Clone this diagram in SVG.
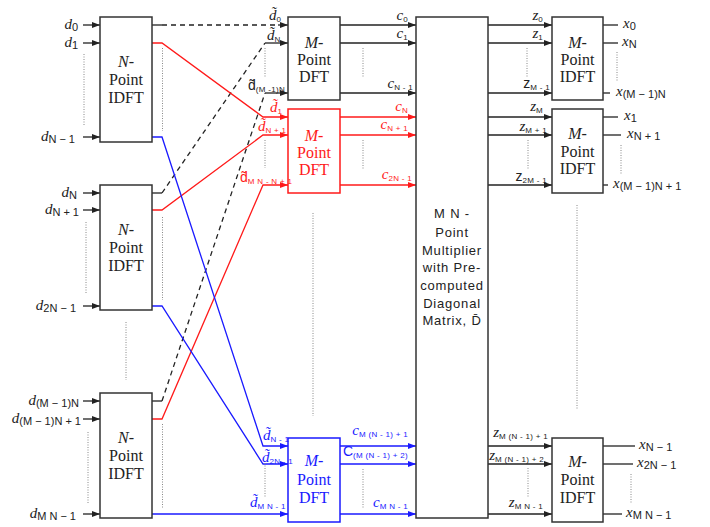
<svg xmlns="http://www.w3.org/2000/svg" width="710" height="527" viewBox="0 0 710 527">
<style>
.bx{fill:#fff;stroke:#333;stroke-width:1.5}
.bxr{fill:#fff;stroke:#ff1a1a;stroke-width:1.5}
.bxb{fill:#fff;stroke:#1a1aff;stroke-width:1.5}
.k{stroke:#222;stroke-width:1.3;fill:none}
.r{stroke:#ff1a1a;stroke-width:1.3;fill:none}
.b{stroke:#1a1aff;stroke-width:1.3;fill:none}
.dsh{stroke-dasharray:5,4}
.dot{stroke:#888;stroke-width:1;stroke-dasharray:1,1.5;fill:none}
.ak{marker-end:url(#ak)}
.ar{marker-end:url(#ar)}
.ab{marker-end:url(#ab)}
.bt{font-family:"Liberation Serif",serif;font-size:16px;text-anchor:middle}
.ct{font-family:"Liberation Sans",Arial,sans-serif;font-size:13px;letter-spacing:0.8px;text-anchor:middle;fill:#222}
.v{font-family:"Liberation Serif",serif;font-style:italic;font-size:15px}
.vs{font-family:"Liberation Sans",Arial,sans-serif;font-size:14px}
.s{font-family:"Liberation Sans",Arial,sans-serif;font-size:11px;font-style:normal}
.ss{font-family:"Liberation Sans",Arial,sans-serif;font-size:8px;font-style:normal;letter-spacing:0.3px}
.e{text-anchor:end}
.tk{fill:#222}
.tr{fill:#ff1a1a}
.tb{fill:#1a1aff}
</style>
<defs>
<marker id="ak" markerUnits="userSpaceOnUse" markerWidth="8" markerHeight="6" refX="8" refY="3" orient="auto"><path d="M0,0 L8,3 L0,6 z" fill="#222"/></marker>
<marker id="ar" markerUnits="userSpaceOnUse" markerWidth="8" markerHeight="6" refX="8" refY="3" orient="auto"><path d="M0,0 L8,3 L0,6 z" fill="#ff1a1a"/></marker>
<marker id="ab" markerUnits="userSpaceOnUse" markerWidth="8" markerHeight="6" refX="8" refY="3" orient="auto"><path d="M0,0 L8,3 L0,6 z" fill="#1a1aff"/></marker>
</defs>

<g id="connectors">
<path class="k ak" d="M83,25 H100"/>
<path class="k ak" d="M83,43 H100"/>
<path class="k ak" d="M83,137 H100"/>
<path class="k ak" d="M83,193 H100"/>
<path class="k ak" d="M83,210 H100"/>
<path class="k ak" d="M83,306 H100"/>
<path class="k ak" d="M83,401 H100"/>
<path class="k ak" d="M83,419 H100"/>
<path class="k ak" d="M83,514 H100"/>
<path class="k" d="M152,25 H162"/>
<path class="k dsh" d="M162,25 H279"/>
<path class="k ak" d="M278,25 H288"/>
<path class="k" d="M152,193 H162"/>
<path class="k dsh" d="M162,193 L265,43"/>
<path class="k ak" d="M265,43 H288"/>
<path class="k" d="M152,401 H162"/>
<path class="k dsh" d="M162,401 L265,93"/>
<path class="k ak" d="M265,93 H288"/>
<path class="r ar" d="M152,43 H162 L263,117 H288"/>
<path class="r ar" d="M152,210 H162 L263,135 H288"/>
<path class="r ar" d="M152,419 H162 L263,185 H288"/>
<path class="b ab" d="M152,137 H162 L263,446 H288"/>
<path class="b ab" d="M152,306 H162 L263,464 H288"/>
<path class="b ab" d="M152,514 H288"/>
<path class="k ak" d="M340,25 H416"/>
<path class="k ak" d="M340,43 H416"/>
<path class="k ak" d="M340,93 H416"/>
<path class="r ar" d="M340,117 H416"/>
<path class="r ar" d="M340,135 H416"/>
<path class="r ar" d="M340,185 H416"/>
<path class="b ab" d="M340,446 H416"/>
<path class="b ab" d="M340,464 H416"/>
<path class="b ab" d="M340,514 H416"/>
<path class="k ak" d="M488,25 H552"/>
<path class="k ak" d="M488,43 H552"/>
<path class="k ak" d="M488,93 H552"/>
<path class="k ak" d="M488,117 H552"/>
<path class="k ak" d="M488,135 H552"/>
<path class="k ak" d="M488,185 H552"/>
<path class="k ak" d="M488,446 H552"/>
<path class="k ak" d="M488,464 H552"/>
<path class="k ak" d="M488,514 H552"/>
<path class="k" d="M603,25 H618"/>
<path class="k" d="M603,43 H618"/>
<path class="k" d="M603,93 H610"/>
<path class="k" d="M603,117 H618"/>
<path class="k" d="M603,135 H621"/>
<path class="k" d="M603,185 H608"/>
<path class="k" d="M603,446 H635"/>
<path class="k" d="M603,464 H633"/>
<path class="k" d="M603,514 H622"/>
<path class="dot" d="M84,54 V125 M162.5,48 V131 M86,222 V293 M162.5,217 V300 M126,322 V380 M88,432 V503 M162.5,424 V509"/>
<path class="dot" d="M265,48 V77 M265,140 V168 M265,463 V498 M363,48 V78 M363,140 V170 M363,469 V508 M313,213 V416"/>
<path class="dot" d="M527,48 V78 M617,52 V82 M528,140 V170 M621,145 V175 M528,468 V498 M631,474 V503 M577,205 V410"/>
</g>

<g id="idft1"><rect class="bx" x="100" y="17" width="52" height="125"/>
<text class="bt tk" x="126" y="67"><tspan font-style="italic">N</tspan>-</text>
<text class="bt tk" x="126" y="85">Point</text><text class="bt tk" x="126" y="103">IDFT</text></g>
<g id="idft2"><rect class="bx" x="100" y="185" width="52" height="125"/>
<text class="bt tk" x="126" y="235"><tspan font-style="italic">N</tspan>-</text>
<text class="bt tk" x="126" y="253">Point</text><text class="bt tk" x="126" y="271">IDFT</text></g>
<g id="idft3"><rect class="bx" x="100" y="393" width="52" height="125"/>
<text class="bt tk" x="126" y="443"><tspan font-style="italic">N</tspan>-</text>
<text class="bt tk" x="126" y="461">Point</text><text class="bt tk" x="126" y="479">IDFT</text></g>

<g id="dft1"><rect class="bx" x="288" y="17" width="52" height="83"/>
<text class="bt tk" x="314" y="48"><tspan font-style="italic">M</tspan>-</text>
<text class="bt tk" x="314" y="65">Point</text><text class="bt tk" x="314" y="82">DFT</text></g>
<g id="dft2"><rect class="bxr" x="288" y="109" width="52" height="84"/>
<text class="bt tr" x="314" y="141"><tspan font-style="italic">M</tspan>-</text>
<text class="bt tr" x="314" y="158">Point</text><text class="bt tr" x="314" y="175">DFT</text></g>
<g id="dft3"><rect class="bxb" x="288" y="438" width="52" height="84"/>
<text class="bt tb" x="314" y="466"><tspan font-style="italic">M</tspan>-</text>
<text class="bt tb" x="314" y="485">Point</text><text class="bt tb" x="314" y="503">DFT</text></g>

<g id="multiplier"><rect class="bx" x="416" y="17" width="72" height="501"/>
<text class="ct" x="452" y="218">M N -</text>
<text class="ct" x="452" y="237">Point</text>
<text class="ct" x="452" y="255">Multiplier</text>
<text class="ct" x="452" y="272">with Pre-</text>
<text class="ct" x="452" y="290">computed</text>
<text class="ct" x="452" y="308">Diagonal</text>
<text class="ct" x="452" y="325">Matrix, D̄</text></g>

<g id="oidft1"><rect class="bx" x="552" y="17" width="51" height="83"/>
<text class="bt tk" x="577.5" y="48"><tspan font-style="italic">M</tspan>-</text>
<text class="bt tk" x="577.5" y="65">Point</text><text class="bt tk" x="577.5" y="82">IDFT</text></g>
<g id="oidft2"><rect class="bx" x="552" y="109" width="51" height="84"/>
<text class="bt tk" x="577.5" y="139"><tspan font-style="italic">M</tspan>-</text>
<text class="bt tk" x="577.5" y="157">Point</text><text class="bt tk" x="577.5" y="174">IDFT</text></g>
<g id="oidft3"><rect class="bx" x="552" y="438" width="51" height="84"/>
<text class="bt tk" x="577.5" y="467"><tspan font-style="italic">M</tspan>-</text>
<text class="bt tk" x="577.5" y="485">Point</text><text class="bt tk" x="577.5" y="503">IDFT</text></g>

<g id="labels-in">
<text class="e tk" x="78" y="29"><tspan class="v">d</tspan><tspan class="s" dy="2">0</tspan></text>
<text class="e tk" x="78" y="47"><tspan class="v">d</tspan><tspan class="s" dy="2">1</tspan></text>
<text class="e tk" x="75" y="141"><tspan class="v">d</tspan><tspan class="s" dy="2">N − 1</tspan></text>
<text class="e tk" x="77" y="197"><tspan class="v">d</tspan><tspan class="s" dy="2">N</tspan></text>
<text class="e tk" x="79" y="214"><tspan class="v">d</tspan><tspan class="s" dy="2">N + 1</tspan></text>
<text class="e tk" x="76" y="310"><tspan class="v">d</tspan><tspan class="s" dy="2">2N − 1</tspan></text>
<text class="e tk" x="79" y="405"><tspan class="v">d</tspan><tspan class="s" dy="2">(M − 1)N</tspan></text>
<text class="e tk" x="81" y="423"><tspan class="v">d</tspan><tspan class="s" dy="2">(M − 1)N + 1</tspan></text>
<text class="e tk" x="76" y="518"><tspan class="v">d</tspan><tspan class="s" dy="2">M N − 1</tspan></text>
</g>

<g id="labels-dft-in">
<text class="tk" x="269" y="20"><tspan class="v">d̃</tspan><tspan class="ss" dy="2">0</tspan></text>
<text class="tk" x="267" y="40"><tspan class="v">d̃</tspan><tspan class="ss" dy="2">N</tspan></text>
<text class="tk" x="248" y="90"><tspan class="vs">d̃</tspan><tspan class="ss" dy="2">(M -1)N</tspan></text>
<text class="tr" x="270" y="112"><tspan class="v">d̃</tspan><tspan class="ss" dy="2">1</tspan></text>
<text class="tr" x="258" y="131"><tspan class="v">d̃</tspan><tspan class="ss" dy="2">N + 1</tspan></text>
<text class="tr" x="240" y="182"><tspan class="vs">d̃</tspan><tspan class="ss" dy="2">M N - N + 1</tspan></text>
<text class="tb" x="263" y="440"><tspan class="v">d̃</tspan><tspan class="ss" dy="2">N - 1</tspan></text>
<text class="tb" x="262" y="462"><tspan class="v">d̃</tspan><tspan class="ss" dy="2">2N - 1</tspan></text>
<text class="tb" x="250" y="507"><tspan class="v">d̃</tspan><tspan class="ss" dy="2">M N - 1</tspan></text>
</g>

<g id="labels-c">
<text class="e tk" x="408" y="20"><tspan class="v">c</tspan><tspan class="ss" dy="2">0</tspan></text>
<text class="e tk" x="408" y="38"><tspan class="v">c</tspan><tspan class="ss" dy="2">1</tspan></text>
<text class="e tk" x="413" y="88"><tspan class="v">c</tspan><tspan class="ss" dy="2">N - 1</tspan></text>
<text class="e tr" x="408" y="111"><tspan class="v">c</tspan><tspan class="ss" dy="2">N</tspan></text>
<text class="e tr" x="408" y="129"><tspan class="v">c</tspan><tspan class="ss" dy="2">N + 1</tspan></text>
<text class="e tr" x="412" y="179"><tspan class="v">c</tspan><tspan class="ss" dy="2">2N - 1</tspan></text>
<text class="e tb" x="408" y="435"><tspan class="v">c</tspan><tspan class="ss" dy="2">M (N - 1) + 1</tspan></text>
<text class="e tb" x="408" y="456"><tspan class="vs" font-size="12px">C</tspan><tspan class="ss" dy="2">(M (N - 1) + 2)</tspan></text>
<text class="e tb" x="408" y="507"><tspan class="v">c</tspan><tspan class="ss" dy="2">M N - 1</tspan></text>
</g>

<g id="labels-z">
<text class="e tk" x="543" y="20"><tspan class="v">z</tspan><tspan class="ss" dy="2">0</tspan></text>
<text class="e tk" x="543" y="38"><tspan class="v">z</tspan><tspan class="ss" dy="2">1</tspan></text>
<text class="e tk" x="550" y="88"><tspan class="vs">z</tspan><tspan class="ss" dy="2">M - 1</tspan></text>
<text class="e tk" x="543" y="111"><tspan class="v">z</tspan><tspan class="ss" dy="2">M</tspan></text>
<text class="e tk" x="547" y="131"><tspan class="v">z</tspan><tspan class="ss" dy="2">M + 1</tspan></text>
<text class="e tk" x="547" y="181"><tspan class="vs">z</tspan><tspan class="ss" dy="2">2M - 1</tspan></text>
<text class="e tk" x="548" y="437"><tspan class="v">z</tspan><tspan class="ss" dy="2">M (N - 1) + 1</tspan></text>
<text class="e tk" x="544" y="460"><tspan class="v">z</tspan><tspan class="ss" dy="2">M (N - 1) + 2</tspan></text>
<text class="e tk" x="543" y="507"><tspan class="v">z</tspan><tspan class="ss" dy="2">M N - 1</tspan></text>
</g>

<g id="labels-x">
<text class="tk" x="623" y="28"><tspan class="v">x</tspan><tspan class="s" dy="2">0</tspan></text>
<text class="tk" x="622" y="46"><tspan class="v">x</tspan><tspan class="s" dy="2">N</tspan></text>
<text class="tk" x="616" y="96"><tspan class="v">x</tspan><tspan class="s" dy="2">(M − 1)N</tspan></text>
<text class="tk" x="624" y="120"><tspan class="v">x</tspan><tspan class="s" dy="2">1</tspan></text>
<text class="tk" x="627" y="138"><tspan class="v">x</tspan><tspan class="s" dy="2">N + 1</tspan></text>
<text class="tk" x="613" y="188"><tspan class="v">x</tspan><tspan class="s" dy="2">(M − 1)N + 1</tspan></text>
<text class="tk" x="639" y="449"><tspan class="v">x</tspan><tspan class="s" dy="2">N − 1</tspan></text>
<text class="tk" x="637" y="467"><tspan class="v">x</tspan><tspan class="s" dy="2">2N − 1</tspan></text>
<text class="tk" x="626" y="517"><tspan class="v">x</tspan><tspan class="s" dy="2">M N − 1</tspan></text>
</g>
</svg>
